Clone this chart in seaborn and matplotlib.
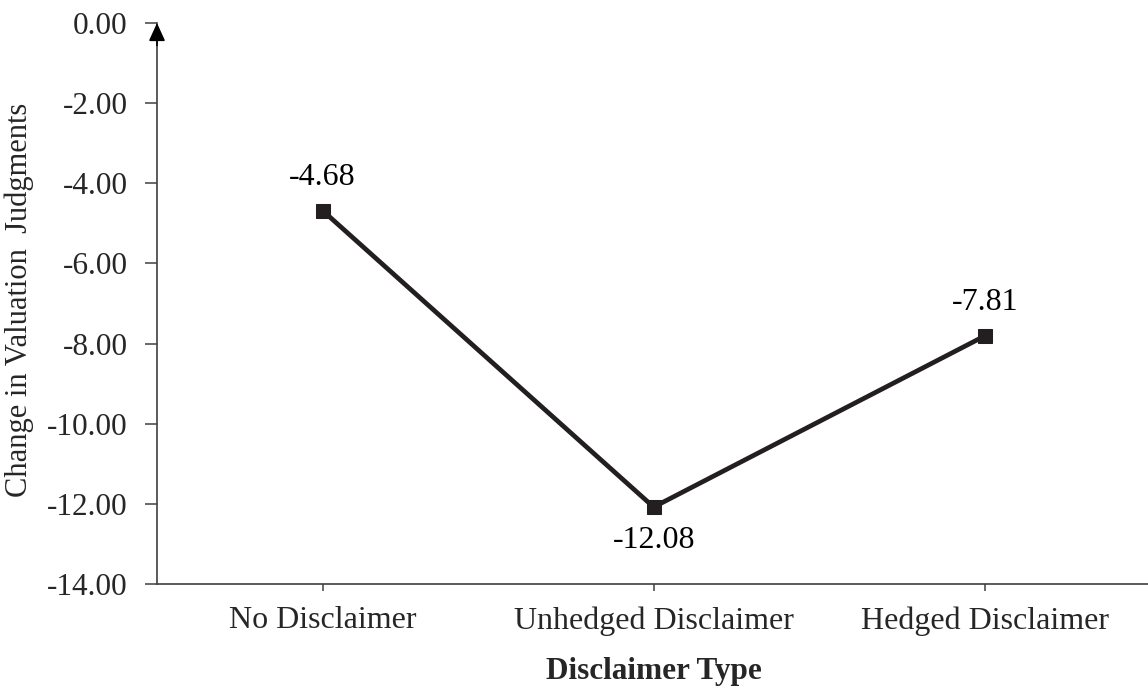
import matplotlib
matplotlib.use("Agg")
import matplotlib.pyplot as plt
import seaborn as sns
import pandas as pd
from matplotlib.ticker import FormatStrFormatter

categories = ["No Disclaimer", "Unhedged Disclaimer", "Hedged Disclaimer"]
values = [-4.68, -12.08, -7.81]
label_offsets = [1, -1, 1]  # +1 above, -1 below

sns.set_style("ticks")
plt.rcParams["font.family"] = ["Liberation Serif", "DejaVu Serif"]

df = pd.DataFrame({"cat": categories, "val": values})

fig = plt.figure(figsize=(11.48, 6.86), dpi=100)
ax = fig.add_axes([157/1148, 1-584/686, 1-157/1148+0.002, (584-23)/686])

line_color = "#231f20"
sns.lineplot(data=df, x="cat", y="val", ax=ax, color=line_color, lw=3.4,
             marker="s", markersize=9.5, markeredgecolor=line_color,
             markerfacecolor=line_color, sort=False)

ax.set_xlim(-0.5, 2.5)
ax.set_ylim(-14, 0)
ax.set_yticks(range(-14, 1, 2))
ax.yaxis.set_major_formatter(FormatStrFormatter("%.2f"))

for i, (c, v, o) in enumerate(zip(categories, values, label_offsets)):
    ax.annotate(f"{v:.2f}", xy=(i, v), xytext=(0, 24*o),
                textcoords="offset points", ha="center", va="center",
                fontsize=23, color="black")

spine_c = "#404040"
for s in ["top", "right"]:
    ax.spines[s].set_visible(False)
for s in ["left", "bottom"]:
    ax.spines[s].set_color(spine_c)
    ax.spines[s].set_linewidth(1.2)

ax.tick_params(axis="y", direction="out", length=9, width=1.1, color=spine_c,
               labelsize=22.5, pad=12)
ax.tick_params(axis="x", direction="out", length=5, width=1.1, color=spine_c,
               labelsize=23, pad=11)

ax.set_xlabel("Disclaimer Type", fontsize=22.5, fontweight="bold", labelpad=15)
ax.set_ylabel("Change in Valuation  Judgments", fontsize=22)
ax.yaxis.set_label_coords(-123/991, (584-300)/561)

ax.annotate("", xy=(0, 1.0), xytext=(0, 0.96), xycoords="axes fraction",
            textcoords="axes fraction",
            arrowprops=dict(arrowstyle="-|>,head_length=1.1,head_width=0.5",
                            color="black", lw=1.2, shrinkA=0, shrinkB=0),
            annotation_clip=False)

fig.savefig("out.png", dpi=100)
